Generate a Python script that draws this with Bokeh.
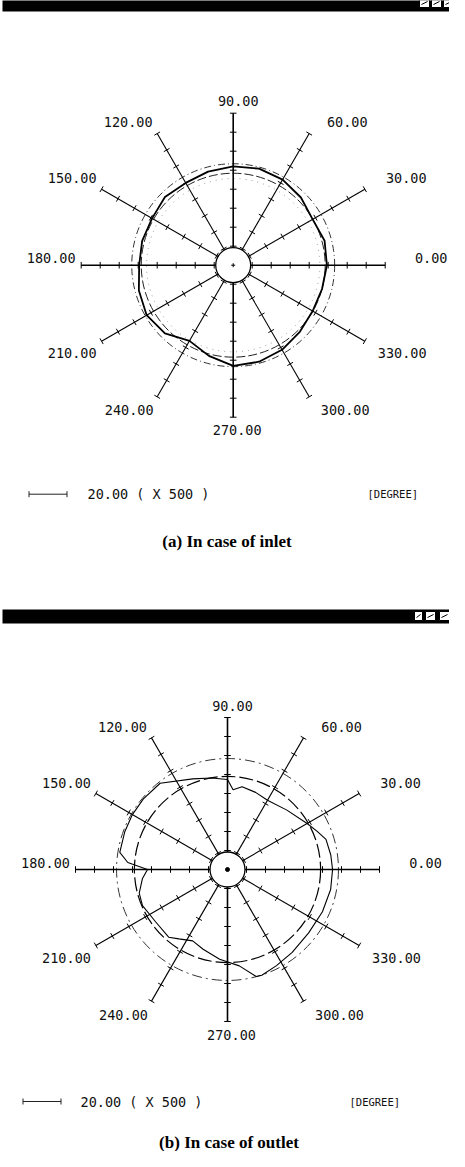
import numpy as np
from bokeh.plotting import figure
from bokeh.models import Range1d
from bokeh.core.properties import value
from bokeh.embed import file_html
from bokeh.resources import INLINE

# ---------------- data ----------------
SPOKE_ANGLES = [0, 30, 60, 90, 120, 150, 180, 210, 240, 270, 300, 330]
SPOKE_LABELS = ["0.00", "30.00", "60.00", "90.00", "120.00", "150.00",
                "180.00", "210.00", "240.00", "270.00", "300.00", "330.00"]
TICK_STEP = 10.0      # radial units between ticks
SPOKE_MAX = 80.0      # radial units
HUB_R = 9.2           # radial units

# (a) inlet: measured profile (radial units) and reference circles
INLET_ANG = [0, 15, 30, 45, 60, 75, 90, 105, 120, 135, 150, 165,
             180, 195, 210, 225, 240, 255, 270, 285, 300, 315, 330, 345]
INLET_R = [49.3, 49.8, 48.3, 50.4, 52.0, 52.6, 52.0, 51.0, 50.0, 50.8, 49.3, 49.6,
           49.5, 51.4, 52.6, 50.8, 46.0, 49.4, 53.0, 52.6, 51.4, 49.6, 48.3, 48.4]
INLET_OUTER = 53.4
INLET_INNER = 48.4
INLET_DOTTED = 45.6

# (b) outlet
OUTLET_ANG = [0, 8, 17, 23, 30, 45, 60, 70, 80, 86, 90, 100, 111, 128, 140, 150,
              160, 171, 176, 180, 186, 195, 203, 216, 229, 235, 244, 253, 265, 277,
              285, 288, 297, 308, 322, 336, 349]
OUTLET_R = [55.3, 54.9, 54.2, 51.3, 48.4, 44.2, 42.1, 43.2, 44.2, 42.1, 47.4, 48.9,
            51.1, 57.6, 57.8, 57.8, 57.6, 57.4, 52.6, 42.1, 45.0, 48.1, 48.6, 46.8,
            47.2, 44.6, 41.8, 43.9, 47.4, 51.1, 58.3, 58.5, 56.8, 55.3, 54.2, 54.7, 55.3]
OUTLET_OUTER = 58.4
OUTLET_INNER = 49.0

SCALE_LEN = 20.0
SCALE_TEXT = "20.00 ( X 500 )"
UNIT_TEXT = "[DEGREE]"
CAPTIONS = ["(a) In case of inlet", "(b) In case of outlet"]

# ---------------- layout (page pixels) ----------------
W, H = 449, 1151
PX = 1.9  # pixels per radial unit
CENTERS = [(240.7, 272.7), (235.0, 877.0)]
LABEL_OFF = [(198, -7), (173, -87), (114, -143), (5, -164), (-105, -143), (-161, -87),
             (-182, -7), (-161, 88), (-104, 145), (4, 165), (112, 145), (169, 88)]
BARS = [(10, 465, 4, 19), (10, 465, 617, 631)]
BTNS = [[(427, 437), (439, 449), (451, 461)], [(422, 430), (433, 443), (447, 457)]]
SCALE_POS = [(36.5, 501.7, 95, 375), (30.5, 1109.0, 88, 357)]
CAP_POS = [(234.5, 549), (236.5, 1150)]

p = figure(width=W, height=H, x_range=Range1d(8, 8 + W), y_range=Range1d(8 + H, 8),
           output_backend="svg", toolbar_location=None, min_border=0)
p.axis.visible = False
p.grid.visible = False
p.outline_line_color = None
p.background_fill_color = "white"
p.border_fill_color = "white"

MONO = value("DejaVu Sans Mono")


def pol(cx, cy, r, ang):
    a = np.radians(np.asarray(ang, dtype=float))
    r = np.asarray(r, dtype=float) * PX
    return cx + r * np.cos(a), cy - r * np.sin(a)


for i, (cx, cy) in enumerate(CENTERS):
    # window title bar
    l, r_, t, b = BARS[i]
    p.quad(left=[l], right=[r_], top=[t], bottom=[b], fill_color="black", line_color=None)
    for (bl, br) in BTNS[i]:
        p.quad(left=[bl], right=[br], top=[t + 2], bottom=[t + 11], fill_color="white",
               line_color="black", line_width=1)
        p.segment(x0=[bl + 2], y0=[t + 8], x1=[br - 2], y1=[t + 5], line_color="black", line_width=1)

    # reference circles
    if i == 0:
        p.circle(x=[cx], y=[cy], radius=INLET_OUTER * PX, fill_color=None,
                 line_color="#333333", line_width=1, line_dash="7 3 1 3")
        p.circle(x=[cx], y=[cy], radius=INLET_INNER * PX, fill_color=None,
                 line_color="#222222", line_width=1, line_dash="9 3")
        p.circle(x=[cx], y=[cy], radius=INLET_DOTTED * PX, fill_color=None,
                 line_color="#999999", line_width=1, line_dash="1 5")
        ang = INLET_ANG + [INLET_ANG[0]]
        rr = INLET_R + [INLET_R[0]]
        xs, ys = pol(cx, cy, rr, ang)
        p.line(xs, ys, line_color="black", line_width=1.8)
    else:
        p.circle(x=[cx], y=[cy], radius=OUTLET_OUTER * PX, fill_color=None,
                 line_color="#333333", line_width=1, line_dash="10 4 2 4")
        p.circle(x=[cx], y=[cy], radius=OUTLET_INNER * PX, fill_color=None,
                 line_color="black", line_width=1.2, line_dash="14 4")
        ang = OUTLET_ANG + [OUTLET_ANG[0]]
        rr = OUTLET_R + [OUTLET_R[0]]
        xs, ys = pol(cx, cy, rr, ang)
        p.line(xs, ys, line_color="black", line_width=1.1)

    # spokes
    x0, y0 = pol(cx, cy, [HUB_R] * 12, SPOKE_ANGLES)
    x1, y1 = pol(cx, cy, [SPOKE_MAX] * 12, SPOKE_ANGLES)
    widths = [1.6 if a % 90 == 0 else 1.1 for a in SPOKE_ANGLES]
    p.segment(x0=x0, y0=y0, x1=x1, y1=y1, line_color="black", line_width=widths)

    # ticks perpendicular to spokes
    tx0, ty0, tx1, ty1 = [], [], [], []
    nt = int(SPOKE_MAX / TICK_STEP)
    for a in SPOKE_ANGLES:
        ar = np.radians(a)
        nx, ny = np.sin(ar), np.cos(ar)
        for k in range(1, nt + 1):
            px_, py_ = pol(cx, cy, k * TICK_STEP, a)
            hl = 3.3
            tx0.append(px_ - hl * nx); ty0.append(py_ - hl * ny)
            tx1.append(px_ + hl * nx); ty1.append(py_ + hl * ny)
    p.segment(x0=tx0, y0=ty0, x1=tx1, y1=ty1, line_color="black", line_width=1)

    # hub
    p.circle(x=[cx], y=[cy], radius=HUB_R * PX, fill_color="white", line_color="black",
             line_width=1.3)
    p.scatter(x=[cx], y=[cy], marker="cross" if i == 0 else "circle", size=4,
              line_color="black", fill_color="black")

    # labels
    lx = [cx + o[0] for o in LABEL_OFF]
    ly = [cy + o[1] for o in LABEL_OFF]
    p.text(x=lx, y=ly, text=SPOKE_LABELS, text_font=MONO, text_font_size="13.5px",
           text_align="center", text_baseline="middle", text_color="#111111")

    # scale bar
    sx, sy, tx, ux = SCALE_POS[i]
    ex = sx + SCALE_LEN * PX
    p.segment(x0=[sx, sx, ex], y0=[sy, sy - 3, sy - 3], x1=[ex, sx, ex], y1=[sy, sy + 3, sy + 3],
              line_color="#222222", line_width=1)
    p.text(x=[tx], y=[sy], text=[SCALE_TEXT], text_font=MONO, text_font_size="13.5px",
           text_align="left", text_baseline="middle", text_color="#111111")
    p.text(x=[ux], y=[sy], text=[UNIT_TEXT], text_font=MONO, text_font_size="10.5px",
           text_align="left", text_baseline="middle", text_color="#111111")

    # caption
    cpx, cpy = CAP_POS[i]
    p.text(x=[cpx], y=[cpy], text=[CAPTIONS[i]], text_font=value("Liberation Serif"),
           text_font_size="17px", text_font_style="bold", text_align="center",
           text_baseline="middle", text_color="black")

open("out.html", "w").write(file_html(p, INLINE))
